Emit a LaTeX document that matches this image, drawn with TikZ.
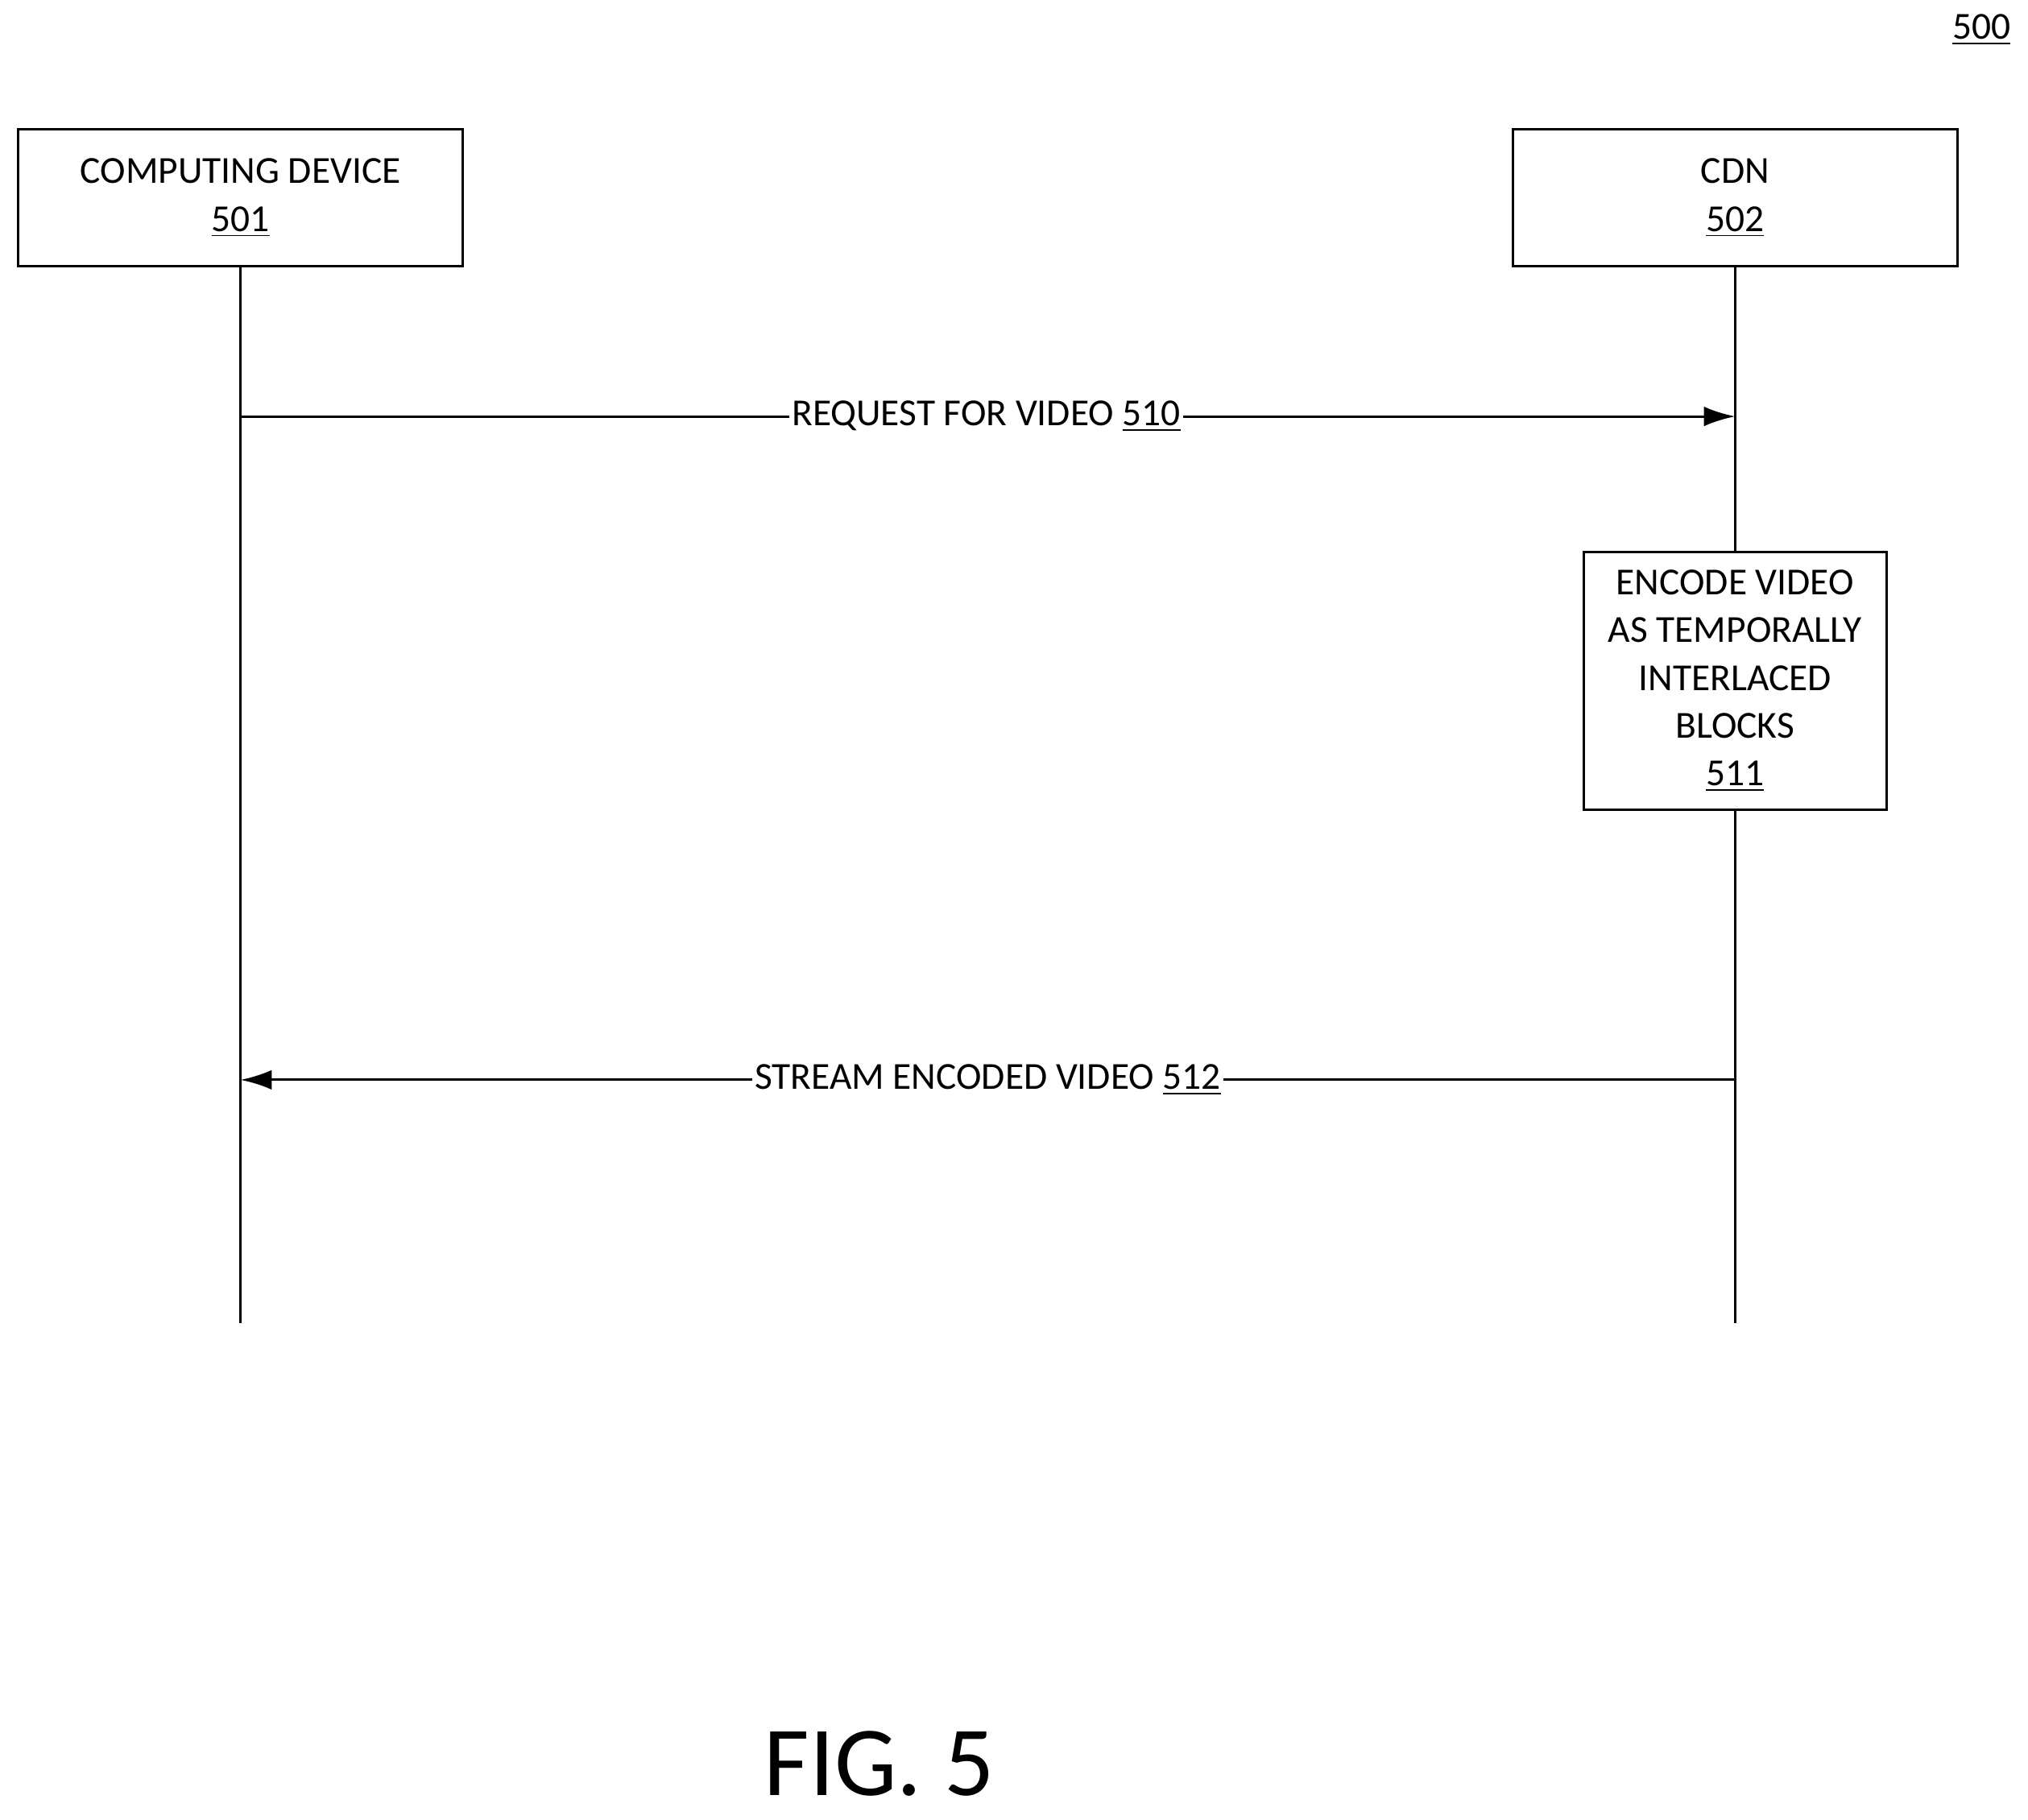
\documentclass[tikz,border=0pt]{standalone}
\usepackage{fontspec}
\setmainfont{Carlito}
\usetikzlibrary{arrows.meta,positioning}

\begin{document}
\begin{tikzpicture}[x=0.01606cm, y=-0.01606cm, line width=0.9pt,
    >={Latex[length=11pt,width=7pt]},
    font=\fontsize{13.5}{16.9}\selectfont,
    entity/.style={draw, minimum width=344*0.01606cm, minimum height=106*0.01606cm, align=center},
    action/.style={draw, minimum width=234*0.01606cm, minimum height=199*0.01606cm, align=center},
    msg/.style={fill=white, inner sep=1pt}]
    \useasboundingbox (0,0) rectangle (1568,1407);

    \node (ref) at (1532,23) {\underline{500}};

    \node[entity] (dev) at (186,153) {COMPUTING DEVICE\\\underline{501}};
    \node[entity] (cdn) at (1341.5,153) {CDN\\\underline{502}};

    \coordinate (devEnd) at (186,1023);
    \coordinate (cdnEnd) at (1341.5,1023);

    \node[action] (enc) at (1341.5,526.5) {ENCODE VIDEO\\AS TEMPORALLY\\INTERLACED\\BLOCKS\\\underline{511}};

    % lifelines
    \draw (dev) -- (devEnd);
    \draw (cdn) -- (enc);
    \draw (enc) -- (cdnEnd);

    % messages
    \coordinate (req1) at (186,322);
    \coordinate (req2) at (1341.5,322);
    \coordinate (str1) at (1341.5,835);
    \coordinate (str2) at (186,835);
    \draw[->] (req1) -- (req2) node[msg, pos=0.499] (reqL) {REQUEST FOR VIDEO \underline{510}};
    \draw[->] (str1) -- (str2) node[msg, pos=0.5] (strL) {STREAM ENCODED VIDEO \underline{512}};

    \node[font=\fontsize{35}{42}\selectfont] (fig) at (680,1364) {FIG. 5};
\end{tikzpicture}
\end{document}
